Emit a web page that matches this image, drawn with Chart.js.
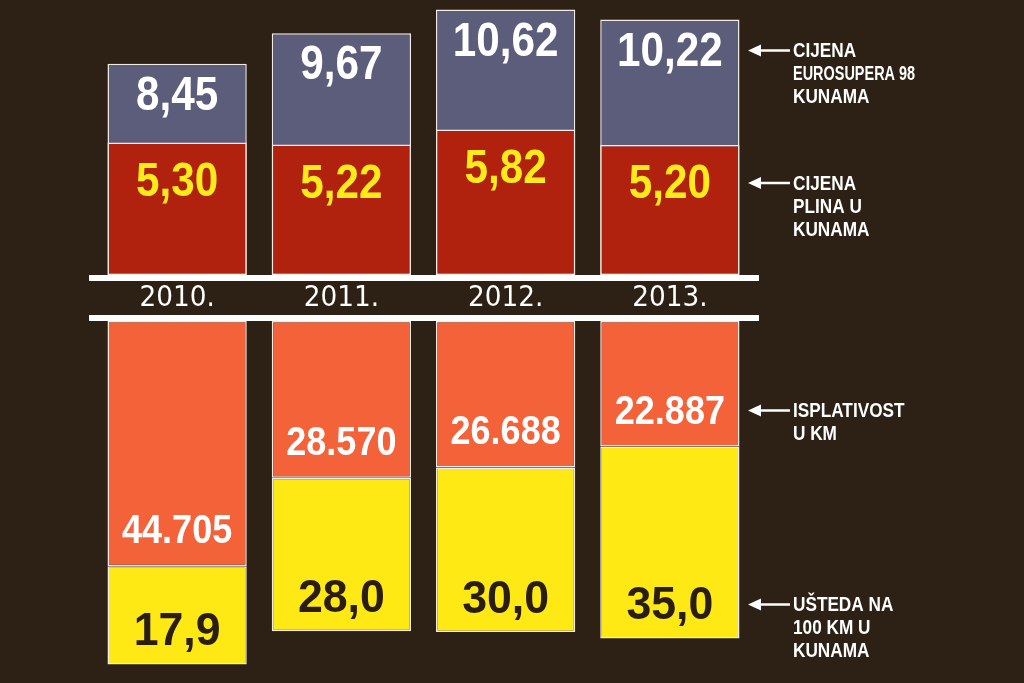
<!DOCTYPE html>
<html>
<head>
<meta charset="utf-8">
<script src="https://cdn.jsdelivr.net/npm/chart.js@4/dist/chart.umd.min.js"></script>
<style>
    html, body { margin: 0; padding: 0; background: #2d2116; width: 1024px; height: 683px; overflow: hidden; }
    canvas { position: absolute; left: 0; }
    #topChart { top: 0; }
    #bottomChart { top: 321px; }
</style>
</head>
<body>
<canvas id="topChart" width="1024" height="321"></canvas>
<canvas id="bottomChart" width="1024" height="362"></canvas>
<script>
const years = ['2010.', '2011.', '2012.', '2013.'];
const cijenaEurosuper = [8.45, 9.67, 10.62, 10.22];   // kn
const cijenaPlin = [5.30, 5.22, 5.82, 5.20];          // kn
const isplativostKm = [44705, 28570, 26688, 22887];   // km
const ustedaKn = [17.9, 28.0, 30.0, 35.0];            // kn na 100 km

const noteEurosuper = ['CIJENA', 'EUROSUPERA 98', 'KUNAMA'];
const notePlin = ['CIJENA', 'PLINA U', 'KUNAMA'];
const noteIsplativost = ['ISPLATIVOST', 'U KM'];
const noteUsteda = ['UŠTEDA NA', '100 KM U', 'KUNAMA'];

const fmtDec = (d) => (v) => v.toFixed(d).replace('.', ',');
const fmtKm = (v) => Math.floor(v / 1000) + '.' + String(v % 1000).padStart(3, '0');

// value labels near the far end of each bar + arrow notes for the last bar
const labelPlugin = {
    id: 'labels',
    afterDatasetsDraw(chart) {
        const ctx = chart.ctx;
        chart.data.datasets.forEach((ds, di) => {
            const meta = chart.getDatasetMeta(di);
            let lastY = null;
            meta.data.forEach((bar, i) => {
                const dir = bar.base > bar.y ? 1 : -1;
                const y = bar.y + dir * ds.labelOffset;
                lastY = y;
                ctx.save();
                ctx.translate(bar.x, y);
                ctx.scale(ds.labelScale, 1);
                ctx.font = 'bold ' + ds.labelSize + 'px "Liberation Sans"';
                ctx.textAlign = 'center';
                ctx.textBaseline = 'middle';
                ctx.fillStyle = ds.labelColor;
                ctx.fillText(ds.fmt(ds.raw[i]), 0, 2);
                ctx.restore();
            });
            if (ds.note && lastY !== null) {
                const tip = chart.chartArea.right - 4;
                ctx.save();
                ctx.strokeStyle = '#fff';
                ctx.fillStyle = '#fff';
                ctx.lineWidth = 2.5;
                ctx.beginPath();
                ctx.moveTo(tip + 8, lastY);
                ctx.lineTo(tip + 42, lastY);
                ctx.stroke();
                ctx.beginPath();
                ctx.moveTo(tip, lastY);
                ctx.lineTo(tip + 13, lastY - 6);
                ctx.lineTo(tip + 13, lastY + 6);
                ctx.closePath();
                ctx.fill();
                ctx.font = 'bold 20px "Liberation Sans"';
                ctx.textAlign = 'left';
                ctx.textBaseline = 'middle';
                ds.note.forEach((line, k) => {
                    ctx.save();
                    ctx.translate(tip + 45, lastY + k * 23);
                    ctx.scale(0.86, 1);
                    ctx.fillText(line, 0, 1, 142);
                    ctx.restore();
                });
                ctx.restore();
            }
        });
    }
};

// white rules and year labels between the two halves
const bandPlugin = {
    id: 'band',
    afterDraw(chart) {
        const ctx = chart.ctx;
        const a = chart.chartArea;
        const xs = chart.scales.x;
        ctx.save();
        ctx.fillStyle = '#fff';
        ctx.fillRect(a.left - 6, a.bottom, a.right - a.left + 13, 6);
        ctx.fillRect(a.left - 6, a.bottom + 40, a.right - a.left + 13, 6);
        ctx.font = '28px "DejaVu Sans"';
        ctx.textAlign = 'center';
        ctx.textBaseline = 'middle';
        years.forEach((y, i) => {
            ctx.save();
            ctx.translate(xs.getPixelForValue(i), a.bottom + 24);
            ctx.scale(0.94, 1);
            ctx.fillText(y, 0, 0);
            ctx.restore();
        });
        ctx.restore();
    }
};

const common = {
    responsive: false,
    animation: false,
    plugins: { legend: { display: false }, tooltip: { enabled: false } },
};

new Chart(document.getElementById('topChart'), {
    type: 'bar',
    data: {
        labels: years,
        datasets: [{
            data: cijenaPlin,
            raw: cijenaPlin,
            fmt: fmtDec(2),
            labelColor: '#ffea1a',
            labelSize: 48,
            labelScale: 0.88,
            labelOffset: 38,
            note: notePlin,
            backgroundColor: '#b0220e',
        }, {
            data: cijenaEurosuper,
            raw: cijenaEurosuper,
            fmt: fmtDec(2),
            labelColor: '#ffffff',
            labelSize: 48,
            labelScale: 0.88,
            labelOffset: 31,
            note: noteEurosuper,
            backgroundColor: '#5b5d7b',
        }]
    },
    options: {
        ...common,
        layout: { padding: { left: 95, right: 272, top: 0, bottom: 46 } },
        datasets: {
            bar: {
                grouped: false,
                barPercentage: 0.848,
                categoryPercentage: 1,
                borderColor: '#f2ece6',
                borderWidth: 1.5,
                borderSkipped: false,
            }
        },
        scales: {
            x: { display: false },
            y: { display: false, min: 0, max: 11 }
        }
    },
    plugins: [labelPlugin, bandPlugin]
});

new Chart(document.getElementById('bottomChart'), {
    type: 'bar',
    data: {
        labels: years,
        datasets: [{
            data: isplativostKm.map(v => v / 1000),
            raw: isplativostKm,
            fmt: fmtKm,
            labelColor: '#ffffff',
            labelSize: 40,
            labelScale: 0.9,
            labelOffset: 36,
            note: noteIsplativost,
            backgroundColor: '#f4623a',
        }, {
            data: ustedaKn,
            raw: ustedaKn,
            fmt: fmtDec(1),
            labelColor: '#2a1d12',
            labelSize: 47,
            labelScale: 0.95,
            labelOffset: 34,
            note: noteUsteda,
            backgroundColor: '#ffe914',
        }]
    },
    options: {
        ...common,
        layout: { padding: { left: 95, right: 272, top: 0, bottom: 0 } },
        datasets: {
            bar: {
                barPercentage: 0.848,
                categoryPercentage: 1,
                borderColor: '#f2ece6',
                borderWidth: 1.5,
                borderSkipped: false,
            }
        },
        scales: {
            x: { display: false, stacked: true },
            y: { display: false, stacked: true, reverse: true, min: 0, max: 66 }
        }
    },
    plugins: [labelPlugin]
});
</script>
</body>
</html>
